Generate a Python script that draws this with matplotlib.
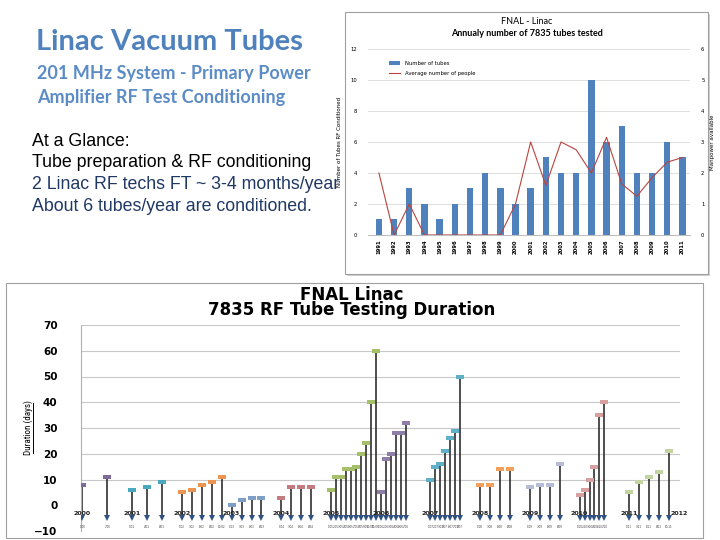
import numpy as np
import matplotlib.pyplot as plt
from matplotlib.patches import Rectangle
from matplotlib.lines import Line2D
from matplotlib import font_manager

# ---- annual chart (top right) ----
years = list(range(1991, 2012))
tubes = [1, 1, 3, 2, 1, 2, 3, 4, 3, 2, 3, 5, 4, 4, 10, 6, 7, 4, 4, 6, 5]
people = [2, 0, 1, 0, 0, 0, 0, 0, 0, 1, 3, 1.6, 3, 2.75, 2, 3.15, 1.65, 1.25, 1.85, 2.35, 2.5]

# ---- test duration chart (bottom) ----
test_years = list(range(2000, 2012))
durations = [
    [8, 11],
    [6, 7, 9],
    [5, 6, 8, 9, 11],
    [0, 2, 3, 3],
    [3, 7, 7, 7],
    [6, 11, 11, 14, 14, 15, 20, 24, 40, 60],
    [5, 18, 20, 28, 28, 32],
    [10, 15, 16, 21, 26, 29, 50],
    [8, 8, 14, 14],
    [7, 8, 8, 16],
    [4, 6, 10, 15, 35, 40],
    [5, 9, 11, 13, 21],
]
year_step = [0.5, 0.3, 0.2, 0.2, 0.2, 0.1, 0.1, 0.1, 0.2, 0.2, 0.1, 0.2]
group_colors = ['#7f6a98', '#4aa7c0', '#ec9550', '#7f9fc6', '#c47c80', '#a5bf6b',
                '#8f7fa8', '#5fb0c8', '#f5a05a', '#b4bcd8', '#d9a0a0', '#c4d4a0']

installed = {f.name for f in font_manager.fontManager.ttflist}
narrow = next((f for f in ['Liberation Sans Narrow', 'Roboto Condensed', 'Liberation Sans']
               if f in installed), 'DejaVu Sans')

W, H = 720, 540
fig = plt.figure(figsize=(7.2, 5.4), dpi=100)

def fx(px):
    return px / W

def fy(py):
    return 1 - py / H

# ---- slide text ----
fig.text(fx(36), fy(42), 'Linac Vacuum Tubes', fontsize=21, fontweight='bold',
         color='#4f81bd', family='Lato', va='center')
fig.text(fx(37), fy(73), '201 MHz System - Primary Power', fontsize=13, fontweight='bold',
         color='#5b8cc6', family='Lato', va='center')
fig.text(fx(37), fy(97), 'Amplifier RF Test Conditioning', fontsize=13, fontweight='bold',
         color='#5b8cc6', family='Lato', va='center')
body = [('At a Glance:', 'black'),
        ('Tube preparation & RF conditioning', 'black'),
        ('2 Linac RF techs FT ~ 3-4 months/year', '#1f3864'),
        ('About 6 tubes/year are conditioned.', '#1f3864')]
for i, (txt, col) in enumerate(body):
    fig.text(fx(32), fy(141 + i * 21.7), txt, fontsize=12.8, color=col,
             family='Liberation Sans', va='center')

# ---- panel frames ----
fig.patches.append(Rectangle((fx(347), fy(276)), fx(363), 262 / H, transform=fig.transFigure,
                             facecolor='#d0d0d0', edgecolor='none', zorder=-2))
fig.patches.append(Rectangle((fx(345), fy(274)), fx(363), 262 / H, transform=fig.transFigure,
                             facecolor='white', edgecolor='#a0a0a0', lw=0.8, zorder=-1))
fig.patches.append(Rectangle((fx(6), fy(538)), fx(697), 255 / H, transform=fig.transFigure,
                             facecolor='white', edgecolor='#a0a0a0', lw=0.8, zorder=-1))

# ---- annual chart ----
ax1 = fig.add_axes([fx(368), fy(235), fx(322), 186 / H])
ax1.patch.set_alpha(0)
xpos = np.arange(len(years))
ax1.bar(xpos, tubes, width=0.42, color='#4f81bd', label='Number of tubes', zorder=2)
ax1.set_xlim(-0.72, 20.5)
ax1.set_ylim(0, 12)
ax1.set_yticks(range(0, 13, 2))
ax1.set_xticks(xpos)
ax1.set_xticklabels([str(y) for y in years], rotation=90, fontsize=3.8, fontweight='bold')
ax1.tick_params(axis='y', labelsize=3.8, length=0, pad=8)
ax1.tick_params(axis='x', length=0, pad=3)
ax1.yaxis.grid(True, color='#d9d9d9', lw=0.6)
ax1.set_axisbelow(True)
for s in ['top', 'left', 'right']:
    ax1.spines[s].set_visible(False)
ax1.spines['bottom'].set_color('#bfbfbf')
ax1.set_ylabel('Number of Tubes RF Conditioned', fontsize=4, labelpad=6)
ax2 = ax1.twinx()
ax2.plot(xpos, people, color='#b9443f', lw=0.8, label='Average number of people')
ax2.set_ylim(0, 6)
ax2.set_yticks(range(0, 7))
ax2.tick_params(axis='y', labelsize=3.8, length=0, pad=8)
for s in ['top', 'left', 'right', 'bottom']:
    ax2.spines[s].set_visible(False)
ax2.set_ylabel('Manpower available', fontsize=4, labelpad=4)
h1, l1 = ax1.get_legend_handles_labels()
h2, l2 = ax2.get_legend_handles_labels()
ax1.legend(h1 + h2, l1 + l2, loc='upper left', bbox_to_anchor=(0.05, 0.96), fontsize=3.8,
           frameon=False, handlelength=2.2, labelspacing=0.9)
fig.text(fx(527), fy(22), 'FNAL - Linac', fontsize=6.5, family='Lato', ha='center', va='center')
fig.text(fx(527), fy(34), 'Annualy number of 7835 tubes tested', fontsize=6.5,
         fontweight='bold', family='Lato', ha='center', va='center')

# ---- test duration chart ----
ax = fig.add_axes([fx(81), fy(531), fx(599), 206 / H])
ax.patch.set_alpha(0)
rect_marker = [(-1, -0.45), (1, -0.45), (1, 0.45), (-1, 0.45), (-1, -0.45)]
base = -5
for yr, vals, step, col in zip(test_years, durations, year_step, group_colors):
    xs = yr + step * np.arange(len(vals))
    for x, v in zip(xs, vals):
        ax.plot([x, x], [base, v], color='#1e1e1e', lw=1.1, zorder=2)
        ax.plot(x, v, marker=rect_marker, ms=5.5, color=col, mew=0, zorder=3)
        ax.plot(x, base, marker='v', ms=4, color='#2f5282', mew=0, zorder=4)
        month = int((x - yr) * 12) + 1
        ax.text(x, -8.4, f'{month}/{yr % 100:02d}', fontsize=2,
                ha='center', va='center', color='#404040')
for yr in range(2000, 2013):
    ax.text(yr, -3.3, str(yr), fontsize=4.5, fontweight='bold', ha='center',
            va='center', color='#202020')
ax.set_xlim(1999.97, 2012.02)
ax.set_ylim(-10, 70)
ax.set_yticks(range(-10, 71, 10))
ax.set_xticks([])
for t in range(10, 71, 10):
    ax.axhline(t, color='#c8c8c8', lw=0.8, zorder=1)
ax.tick_params(axis='y', length=0, pad=17, labelsize=7.5)
for lab in ax.get_yticklabels():
    lab.set_fontweight('bold')
for s in ['top', 'right', 'bottom']:
    ax.spines[s].set_visible(False)
ax.spines['left'].set_color('#b0b0b0')
fig.text(fx(28), fy(428), 'Duration (days)', fontsize=6.5, rotation=90, family=narrow,
         ha='center', va='center')
fig.add_artist(Line2D([fx(33), fx(33)], [fy(403), fy(453)], color='black', lw=0.7))
fig.text(fx(352), fy(295), 'FNAL Linac', fontsize=12, fontweight='bold', ha='center', va='center')
fig.text(fx(352), fy(310), '7835 RF Tube Testing Duration', fontsize=12, fontweight='bold',
         ha='center', va='center')

fig.savefig('out.png', dpi=100)
